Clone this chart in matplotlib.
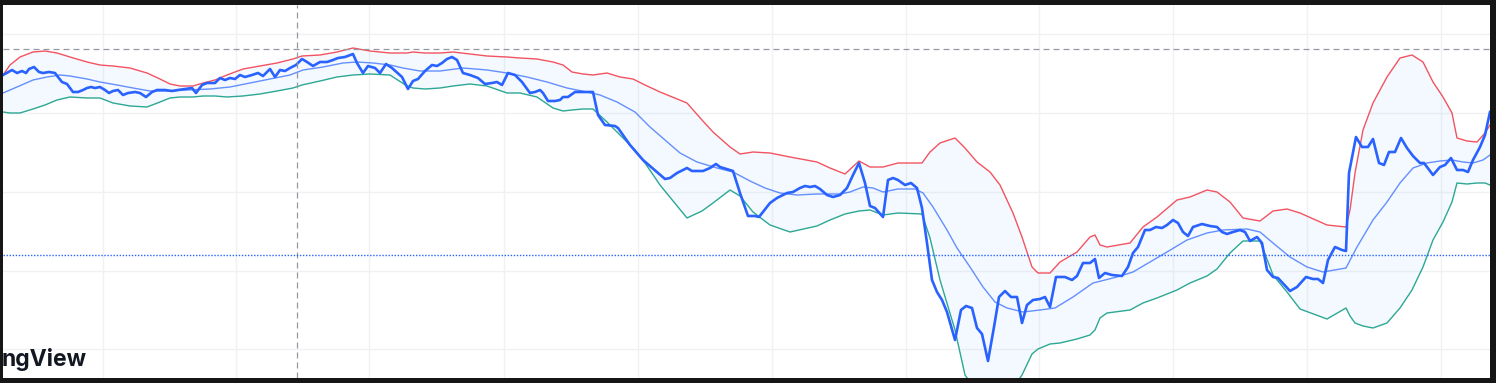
import numpy as np
import matplotlib
matplotlib.use("Agg")
from matplotlib import pyplot as plt

price_x = [3, 12, 17, 22, 26, 29, 34, 39, 43, 49, 55, 58, 62, 67, 73, 78, 83, 87, 91, 95,
           100, 105, 109, 113, 118, 123, 128, 135, 140, 146, 152, 157, 165, 172, 178, 185, 192, 196, 202, 207,
           212, 215, 220, 225, 230, 235, 240, 245, 252, 258, 263, 270, 275, 280, 285, 290, 296, 302, 307, 313,
           320, 327, 333, 338, 345, 353, 357, 363, 368, 375, 380, 386, 392, 402, 408, 413, 418, 425, 432, 437,
           442, 447, 452, 457, 463, 470, 478, 485, 492, 497, 502, 508, 515, 522, 530, 535, 540, 543, 548, 555,
           560, 563, 568, 575, 583, 593, 598, 605, 615, 618, 630, 643, 657, 665, 670, 677, 687, 692, 703, 710,
           716, 720, 730, 733, 740, 748, 755, 759, 770, 777, 787, 793, 800, 805, 810, 815, 820, 827, 833, 840,
           847, 853, 859, 865, 870, 875, 883, 888, 893, 898, 905, 911, 917, 922, 927, 932, 937, 942, 947, 955,
           961, 966, 972, 977, 982, 988, 994, 999, 1005, 1011, 1017, 1022, 1027, 1033, 1040, 1045, 1050, 1056, 1065, 1072,
           1077, 1083, 1090, 1095, 1099, 1105, 1112, 1122, 1128, 1133, 1138, 1145, 1150, 1156, 1162, 1167, 1173, 1178, 1183, 1188,
           1193, 1202, 1210, 1217, 1222, 1227, 1233, 1240, 1245, 1250, 1257, 1262, 1267, 1273, 1278, 1290, 1297, 1306, 1313, 1318,
           1323, 1328, 1335, 1342, 1346, 1349, 1356, 1362, 1368, 1373, 1379, 1384, 1389, 1395, 1401, 1407, 1413, 1420, 1424, 1433,
           1440, 1445, 1451, 1457, 1463, 1468, 1473, 1480, 1485, 1490]
price_y = [75, 70, 73, 71, 73, 69, 67, 72, 73, 72, 73, 77, 82, 84, 92, 92, 90, 88, 87, 88,
           87, 90, 93, 91, 90, 95, 93, 92, 93, 97, 92, 90, 90, 91, 90, 89, 88, 93, 85, 83,
           83, 83, 78, 80, 78, 79, 75, 77, 75, 73, 76, 69, 77, 70, 71, 68, 65, 59, 62, 66,
           62, 62, 60, 58, 57, 54, 63, 73, 66, 68, 73, 64, 68, 77, 89, 81, 79, 71, 65, 66,
           63, 59, 57, 60, 73, 75, 78, 84, 83, 82, 85, 73, 75, 82, 93, 92, 90, 93, 101, 101,
           100, 97, 97, 92, 92, 92, 115, 125, 126, 128, 145, 160, 172, 179, 178, 173, 168, 171, 171, 168,
           164, 167, 170, 171, 193, 216, 216, 217, 203, 198, 193, 192, 188, 186, 187, 186, 189, 195, 197, 195,
           188, 175, 163, 183, 206, 208, 217, 180, 178, 180, 185, 183, 188, 208, 243, 280, 292, 300, 312, 340,
           310, 306, 308, 328, 334, 361, 327, 297, 291, 297, 297, 323, 305, 300, 299, 297, 307, 277, 277, 280,
           276, 263, 263, 259, 278, 273, 275, 276, 267, 253, 247, 230, 230, 227, 228, 225, 220, 223, 232, 236,
           227, 224, 226, 227, 232, 234, 232, 230, 232, 241, 237, 243, 270, 277, 278, 291, 287, 277, 279, 279,
           283, 260, 247, 250, 251, 173, 137, 147, 147, 139, 163, 165, 152, 152, 138, 148, 156, 163, 163, 175,
           167, 165, 158, 170, 170, 172, 160, 147, 135, 112]

basis_x = [3, 17, 33, 47, 60, 70, 87, 100, 117, 133, 150, 167, 187, 210, 230, 250, 270, 290, 303, 323,
           343, 357, 373, 390, 403, 420, 440, 463, 487, 507, 527, 547, 567, 587, 600, 617, 635, 650, 665, 680,
           697, 717, 733, 750, 765, 780, 797, 817, 840, 850, 863, 873, 883, 898, 915, 923, 933, 947, 957, 970,
           983, 995, 1007, 1023, 1040, 1055, 1073, 1093, 1117, 1133, 1150, 1167, 1187, 1207, 1223, 1247, 1260, 1273, 1290, 1307,
           1323, 1346, 1357, 1373, 1387, 1400, 1413, 1427, 1440, 1452, 1463, 1473, 1483, 1490]
basis_y = [93, 87, 80, 77, 75, 76, 79, 82, 85, 88, 91, 91, 90, 89, 87, 83, 79, 75, 70, 67,
           63, 62, 63, 65, 68, 71, 71, 68, 70, 73, 77, 82, 88, 92, 95, 102, 112, 127, 140, 153,
           162, 168, 172, 181, 188, 193, 195, 194, 194, 192, 187, 188, 192, 189, 189, 193, 207, 230, 248, 267,
           287, 302, 308, 312, 310, 308, 297, 283, 277, 272, 262, 252, 240, 233, 230, 229, 232, 243, 257, 267,
           272, 268, 247, 220, 202, 183, 168, 163, 161, 160, 162, 163, 160, 155]

band_x = [3, 10, 20, 33, 45, 57, 70, 87, 100, 113, 130, 147, 160, 170, 180, 193, 203, 215, 227, 243,
          260, 277, 293, 302, 320, 337, 353, 370, 390, 407, 413, 425, 440, 453, 470, 487, 507, 520, 537, 553,
          563, 572, 583, 593, 607, 620, 633, 645, 660, 687, 702, 713, 730, 740, 753, 770, 790, 817, 830, 845,
          859, 870, 883, 898, 922, 930, 940, 955, 965, 977, 990, 1000, 1013, 1022, 1032, 1038, 1050, 1060, 1077, 1090,
          1095, 1100, 1107, 1130, 1143, 1157, 1177, 1190, 1207, 1217, 1230, 1243, 1260, 1273, 1287, 1300, 1327, 1346, 1350, 1355,
          1363, 1373, 1387, 1400, 1412, 1423, 1433, 1443, 1452, 1457, 1467, 1477, 1485, 1490]
upper_y = [75, 65, 57, 52, 51, 53, 57, 62, 65, 66, 68, 73, 79, 84, 86, 86, 83, 80, 75, 69,
           66, 63, 59, 56, 55, 52, 48, 51, 53, 53, 52, 53, 53, 52, 54, 56, 57, 58, 59, 62,
           65, 72, 74, 75, 73, 77, 79, 85, 92, 103, 120, 132, 147, 154, 152, 153, 157, 162, 168, 174,
           161, 167, 167, 163, 163, 152, 143, 138, 148, 162, 172, 185, 213, 237, 267, 273, 273, 262, 252, 237,
           235, 245, 247, 243, 227, 217, 200, 197, 190, 192, 202, 218, 221, 211, 209, 213, 225, 227, 210, 173,
           130, 103, 77, 58, 55, 62, 82, 97, 113, 138, 141, 142, 133, 125]
lower_y = [112, 113, 113, 109, 105, 100, 97, 98, 98, 103, 106, 107, 102, 98, 97, 97, 96, 96, 97, 96,
           94, 91, 88, 85, 81, 77, 75, 74, 75, 86, 88, 89, 88, 86, 84, 86, 93, 93, 97, 108,
           111, 110, 109, 109, 122, 135, 148, 163, 185, 218, 211, 203, 190, 196, 212, 225, 232, 226, 220, 214,
           211, 210, 215, 213, 214, 238, 280, 330, 375, 392, 400, 398, 388, 375, 354, 349, 344, 343, 339, 335,
           330, 318, 313, 310, 303, 298, 290, 283, 276, 269, 253, 241, 241, 275, 292, 309, 319, 308, 316, 323,
           326, 328, 323, 308, 290, 267, 240, 222, 202, 183, 184, 183, 183, 185]

vgrid = [103, 236, 369, 504, 638, 772, 906, 1039, 1173, 1307, 1441]
hgrid = [34, 113, 192, 271, 349]
cross_x = 297
cross_y = 49
last_line = 255

plt.rcParams['lines.scale_dashes'] = False
fig = plt.figure(figsize=(14.96, 3.83), dpi=100)
fig.patch.set_facecolor('#161616')
ax = fig.add_axes([3 / 1496, 5 / 383, 1487 / 1496, 373 / 383])
ax.set_facecolor('white')
ax.set_xlim(3, 1490)
ax.set_ylim(378, 5)
ax.set_xticks([])
ax.set_yticks([])
for s in ax.spines.values():
    s.set_visible(False)

for g in vgrid:
    ax.axvline(g, color='#f0f1f4', lw=1.0, zorder=0)
for g in hgrid:
    ax.axhline(g, color='#f0f1f4', lw=1.0, zorder=0)

# band fill and lines
ax.fill(np.concatenate([band_x, band_x[::-1]]), np.concatenate([upper_y, lower_y[::-1]]),
        color='#2196F3', alpha=0.05, lw=0, zorder=1)
ax.plot(band_x, upper_y, color='#F23645', lw=1.0, alpha=0.85, zorder=2)
ax.plot(band_x, lower_y, color='#089981', lw=1.0, alpha=0.85, zorder=2)
ax.plot(basis_x, basis_y, color='#2962FF', lw=1.0, alpha=0.7, zorder=3)
ax.plot(price_x, price_y, color='#2962FF', lw=1.9, zorder=4, solid_joinstyle='round')

# crosshair and last value line
ax.axhline(cross_y, color='#9598a1', lw=0.9, dashes=(4.3, 2.9), zorder=5)
ax.axvline(cross_x, color='#9598a1', lw=0.9, dashes=(4.3, 2.9), zorder=5)
ax.axhline(last_line, color='#2962FF', lw=1.0, dashes=(1.0, 1.2), zorder=5)

ax.text(2, 366, 'ngView', fontsize=16.5, fontweight='bold', color='#131722',
        family=['Inter', 'DejaVu Sans'], ha='left', va='baseline', zorder=6)

fig.savefig('out.png', dpi=100, facecolor=fig.get_facecolor())
